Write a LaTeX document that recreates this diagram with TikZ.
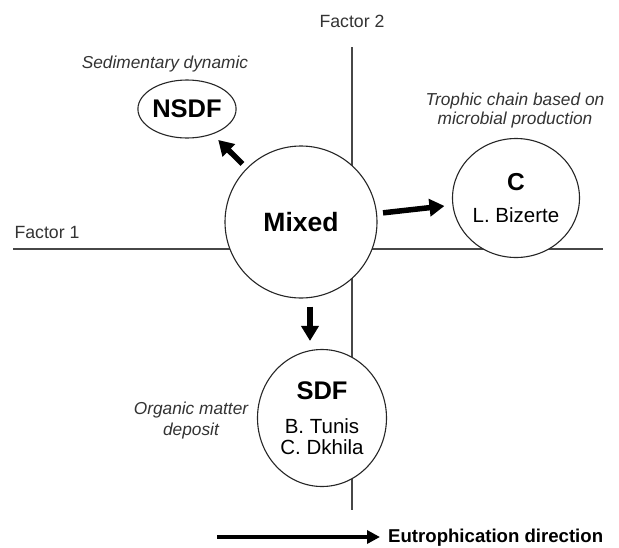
\documentclass[tikz,border=0pt]{standalone}
\usepackage{fontspec}
\setmainfont{Liberation Sans}
\usetikzlibrary{arrows.meta,shapes.geometric}
\begin{document}
\begin{tikzpicture}[x=1pt,y=-1pt,
  axis/.style={line width=1.4pt, draw=black!72},
  bubble/.style={ellipse, draw=black!85, line width=1.1pt, fill=white, inner sep=0pt, align=center},
  bigarrow/.style={line width=5.5pt, black, -{Triangle[length=15pt,width=17pt]}},
  eutroarrow/.style={line width=4.5pt, black, -{Triangle[length=13pt,width=13pt]}},
  note/.style={font=\fontsize{17.3}{20}\selectfont\itshape, text=black!80, align=center, inner sep=0pt},
  axlabel/.style={font=\fontsize{17.7}{20}\selectfont, text=black!80, inner sep=0pt},
]
\useasboundingbox (0,0) rectangle (619,547);
% axes
\coordinate (v1) at (352,47);
\coordinate (v2) at (352,510);
\coordinate (h1) at (13,249);
\coordinate (h2) at (603,249);
\draw[axis] (v1) -- (v2);
\draw[axis] (h1) -- (h2);
\node[axlabel] (f1) at (47,232) {Factor 1};
\node[axlabel] (f2) at (352,21) {Factor 2};
% bubbles
\node[bubble, minimum width=152pt, minimum height=152pt, font=\fontsize{26.5}{26.5}\selectfont\bfseries] (mixed) at (301,222) {Mixed};
\node[bubble, minimum width=95pt, minimum height=58pt, font=\fontsize{25.5}{25.5}\selectfont\bfseries] (nsdf) at (187,109) {NSDF};
\node[bubble, minimum width=127pt, minimum height=119pt, font=\fontsize{20.5}{20.6}\selectfont] (c) at (516,198) {{\fontsize{24.5}{24.5}\selectfont\bfseries C}\\[12pt]L. Bizerte};
\node[bubble, minimum width=129pt, minimum height=137pt, font=\fontsize{20.5}{20.6}\selectfont] (sdf) at (322,418) {{\fontsize{25.5}{25.5}\selectfont\bfseries SDF}\\[14pt]B. Tunis\\C. Dkhila};
% notes
\node[note] (sed) at (165,64) {Sedimentary dynamic};
\node[note, font=\fontsize{17.3}{19.5}\selectfont\itshape] (troph) at (515,110.5) {Trophic chain based on\\microbial production};
\node[note, font=\fontsize{17.3}{21}\selectfont\itshape] (org) at (191,420.5) {Organic matter\\deposit};
% arrows
\draw[bigarrow, shorten <=6pt, shorten >=8pt] (mixed) -- (nsdf);
\draw[bigarrow, shorten <=6pt, shorten >=8pt] (mixed) -- (c);
\draw[bigarrow] ([xshift=9pt,yshift=-8pt]mixed.south) -- ([xshift=-12pt,yshift=8pt]sdf.north);
% eutrophication
\node[inner sep=0pt, anchor=west, font=\fontsize{18.6}{20}\selectfont\bfseries] (eu) at (388,538) {Eutrophication direction};
\coordinate (e1) at (217,537);
\draw[eutroarrow, shorten >=8pt] (e1) -- (eu.west |- e1);
\end{tikzpicture}
\end{document}
